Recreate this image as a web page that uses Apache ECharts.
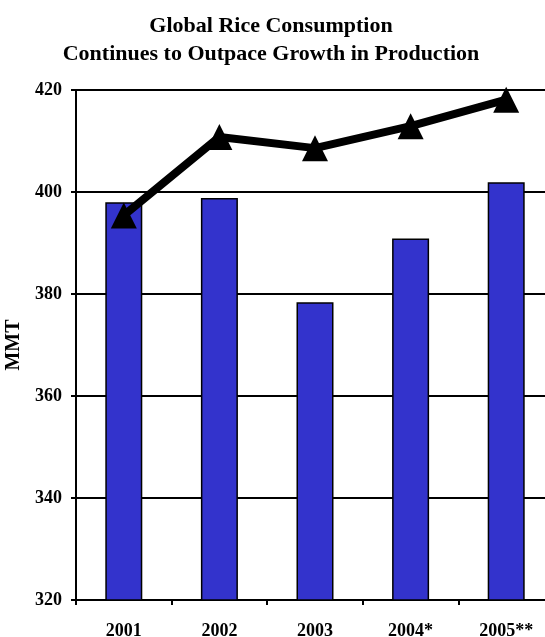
<!DOCTYPE html>
<html>
<head>
<meta charset="utf-8">
<script src="https://cdn.jsdelivr.net/npm/echarts@6/dist/echarts.min.js"></script>
<style>
  html, body { margin: 0; padding: 0; background: #fff; }
  #chart { width: 545px; height: 637px; }
</style>
</head>
<body>
<div id="chart"></div>
<script>
var years = ['2001', '2002', '2003', '2004*', '2005**'];
var production = [398.0, 398.8, 378.4, 390.9, 401.9];
var consumption = [395.4, 410.8, 408.6, 412.9, 418.1];
var yTicks = { min: 320, max: 420, step: 20 };

var myChart = echarts.init(document.getElementById('chart'));
var font = '"Liberation Serif", "Times New Roman", serif';

var option = {
  animation: false,
  title: {
    text: 'Global Rice Consumption\nContinues to Outpace Growth in Production',
    left: 266,
    top: 7,
    textAlign: 'center',
    textStyle: {
      fontFamily: font,
      fontWeight: 'bold',
      fontSize: 22,
      lineHeight: 28,
      color: '#000'
    }
  },
  grid: {
    left: 76,
    top: 90,
    width: 478,
    bottom: 37,
    outerBoundsMode: 'none',
    containLabel: false
  },
  xAxis: {
    type: 'category',
    data: years,
    axisLine: { lineStyle: { color: '#000', width: 2 } },
    axisTick: { show: true, length: 5, lineStyle: { color: '#000', width: 2 } },
    axisLabel: {
      color: '#000',
      fontFamily: font,
      fontWeight: 'bold',
      fontSize: 18,
      margin: 22
    }
  },
  yAxis: {
    type: 'value',
    min: yTicks.min,
    max: yTicks.max,
    interval: yTicks.step,
    name: 'MMT',
    nameLocation: 'middle',
    nameRotate: 90,
    nameGap: 46,
    nameTextStyle: {
      color: '#000',
      fontFamily: font,
      fontWeight: 'bold',
      fontSize: 20
    },
    axisLine: { show: true, lineStyle: { color: '#000', width: 2 } },
    axisTick: { show: true, length: 5, lineStyle: { color: '#000', width: 2 } },
    axisLabel: {
      color: '#000',
      fontFamily: font,
      fontWeight: 'bold',
      fontSize: 18,
      margin: 14
    },
    splitLine: { lineStyle: { color: '#000', width: 2 } }
  },
  series: [
    {
      name: 'Production',
      type: 'bar',
      data: production,
      barWidth: 37,
      itemStyle: { color: '#3333cc', borderColor: '#000', borderWidth: 1.5 },
      z: 2
    },
    {
      name: 'Consumption',
      type: 'line',
      data: consumption,
      symbol: 'triangle',
      symbolSize: [26, 26],
      lineStyle: { color: '#000', width: 8 },
      itemStyle: { color: '#000' },
      z: 5
    }
  ]
};

myChart.setOption(option);
</script>
</body>
</html>
